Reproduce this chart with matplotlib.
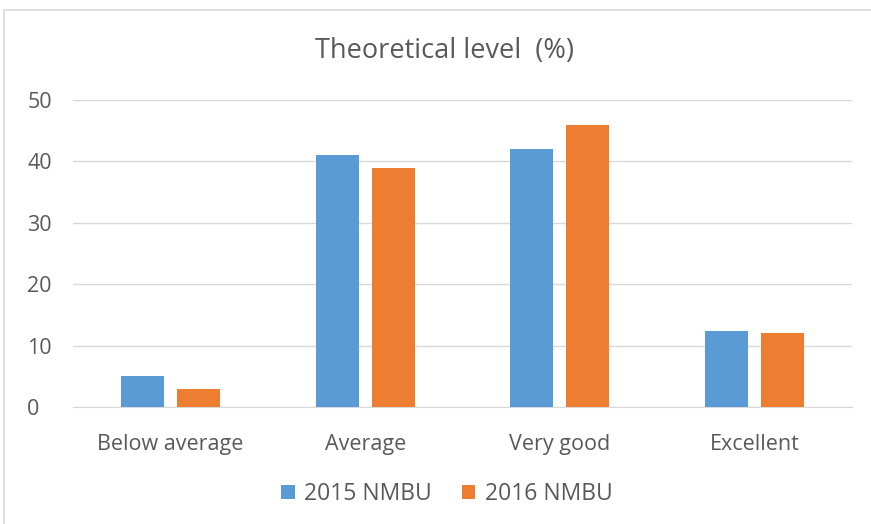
import matplotlib
matplotlib.use("Agg")
import matplotlib.pyplot as plt
import numpy as np
from matplotlib.patches import Rectangle

categories = ["Below average", "Average", "Very good", "Excellent"]
nmbu_2015 = [5, 41, 42, 12.4]
nmbu_2016 = [3, 39, 46, 12]
series_names = ["2015 NMBU", "2016 NMBU"]

plt.rcParams['font.family'] = ['Open Sans', 'DejaVu Sans']
text_color = "#595959"

fig = plt.figure(figsize=(8.71, 5.24), dpi=100)
ax = fig.add_axes([0.084, 0.223, 0.894, 0.586])

x = np.arange(len(categories))
w = 0.22
ax.bar(x - 0.144, nmbu_2015, w, color="#5B9BD5", label=series_names[0], zorder=3)
ax.bar(x + 0.144, nmbu_2016, w, color="#ED7D31", label=series_names[1], zorder=3)

ax.set_xlim(-0.5, 3.5)
ax.set_ylim(0, 50)
ax.set_yticks(range(0, 51, 10))
ax.set_xticks(x)
ax.set_xticklabels(categories)
ax.tick_params(axis="both", length=0, labelsize=15.5, colors=text_color)
ax.tick_params(axis="x", pad=19)
ax.tick_params(axis="y", pad=33)
for lbl in ax.get_yticklabels():
    lbl.set_horizontalalignment("left")
ax.grid(axis="y", color="#D9D9D9", linewidth=1, zorder=0)
for s in ["top", "right", "left"]:
    ax.spines[s].set_visible(False)
ax.spines["bottom"].set_color("#D9D9D9")

fig.text(0.51, 0.902, "Theoretical level  (%)", ha="center", va="center",
         fontsize=19.5, color=text_color)

fig.legend(loc="center", bbox_to_anchor=(0.513, 0.057), ncol=2, frameon=False,
           fontsize=16.5, handlelength=0.6, handleheight=0.6, handletextpad=0.4,
           columnspacing=1.3, labelcolor=text_color)

fig.patches.append(Rectangle((4 / 871, -0.01), 1.0, 1 - 10 / 524 + 0.01,
                             transform=fig.transFigure, fill=False,
                             edgecolor="#D9D9D9", linewidth=1.2))

fig.savefig("out.png", dpi=100)
